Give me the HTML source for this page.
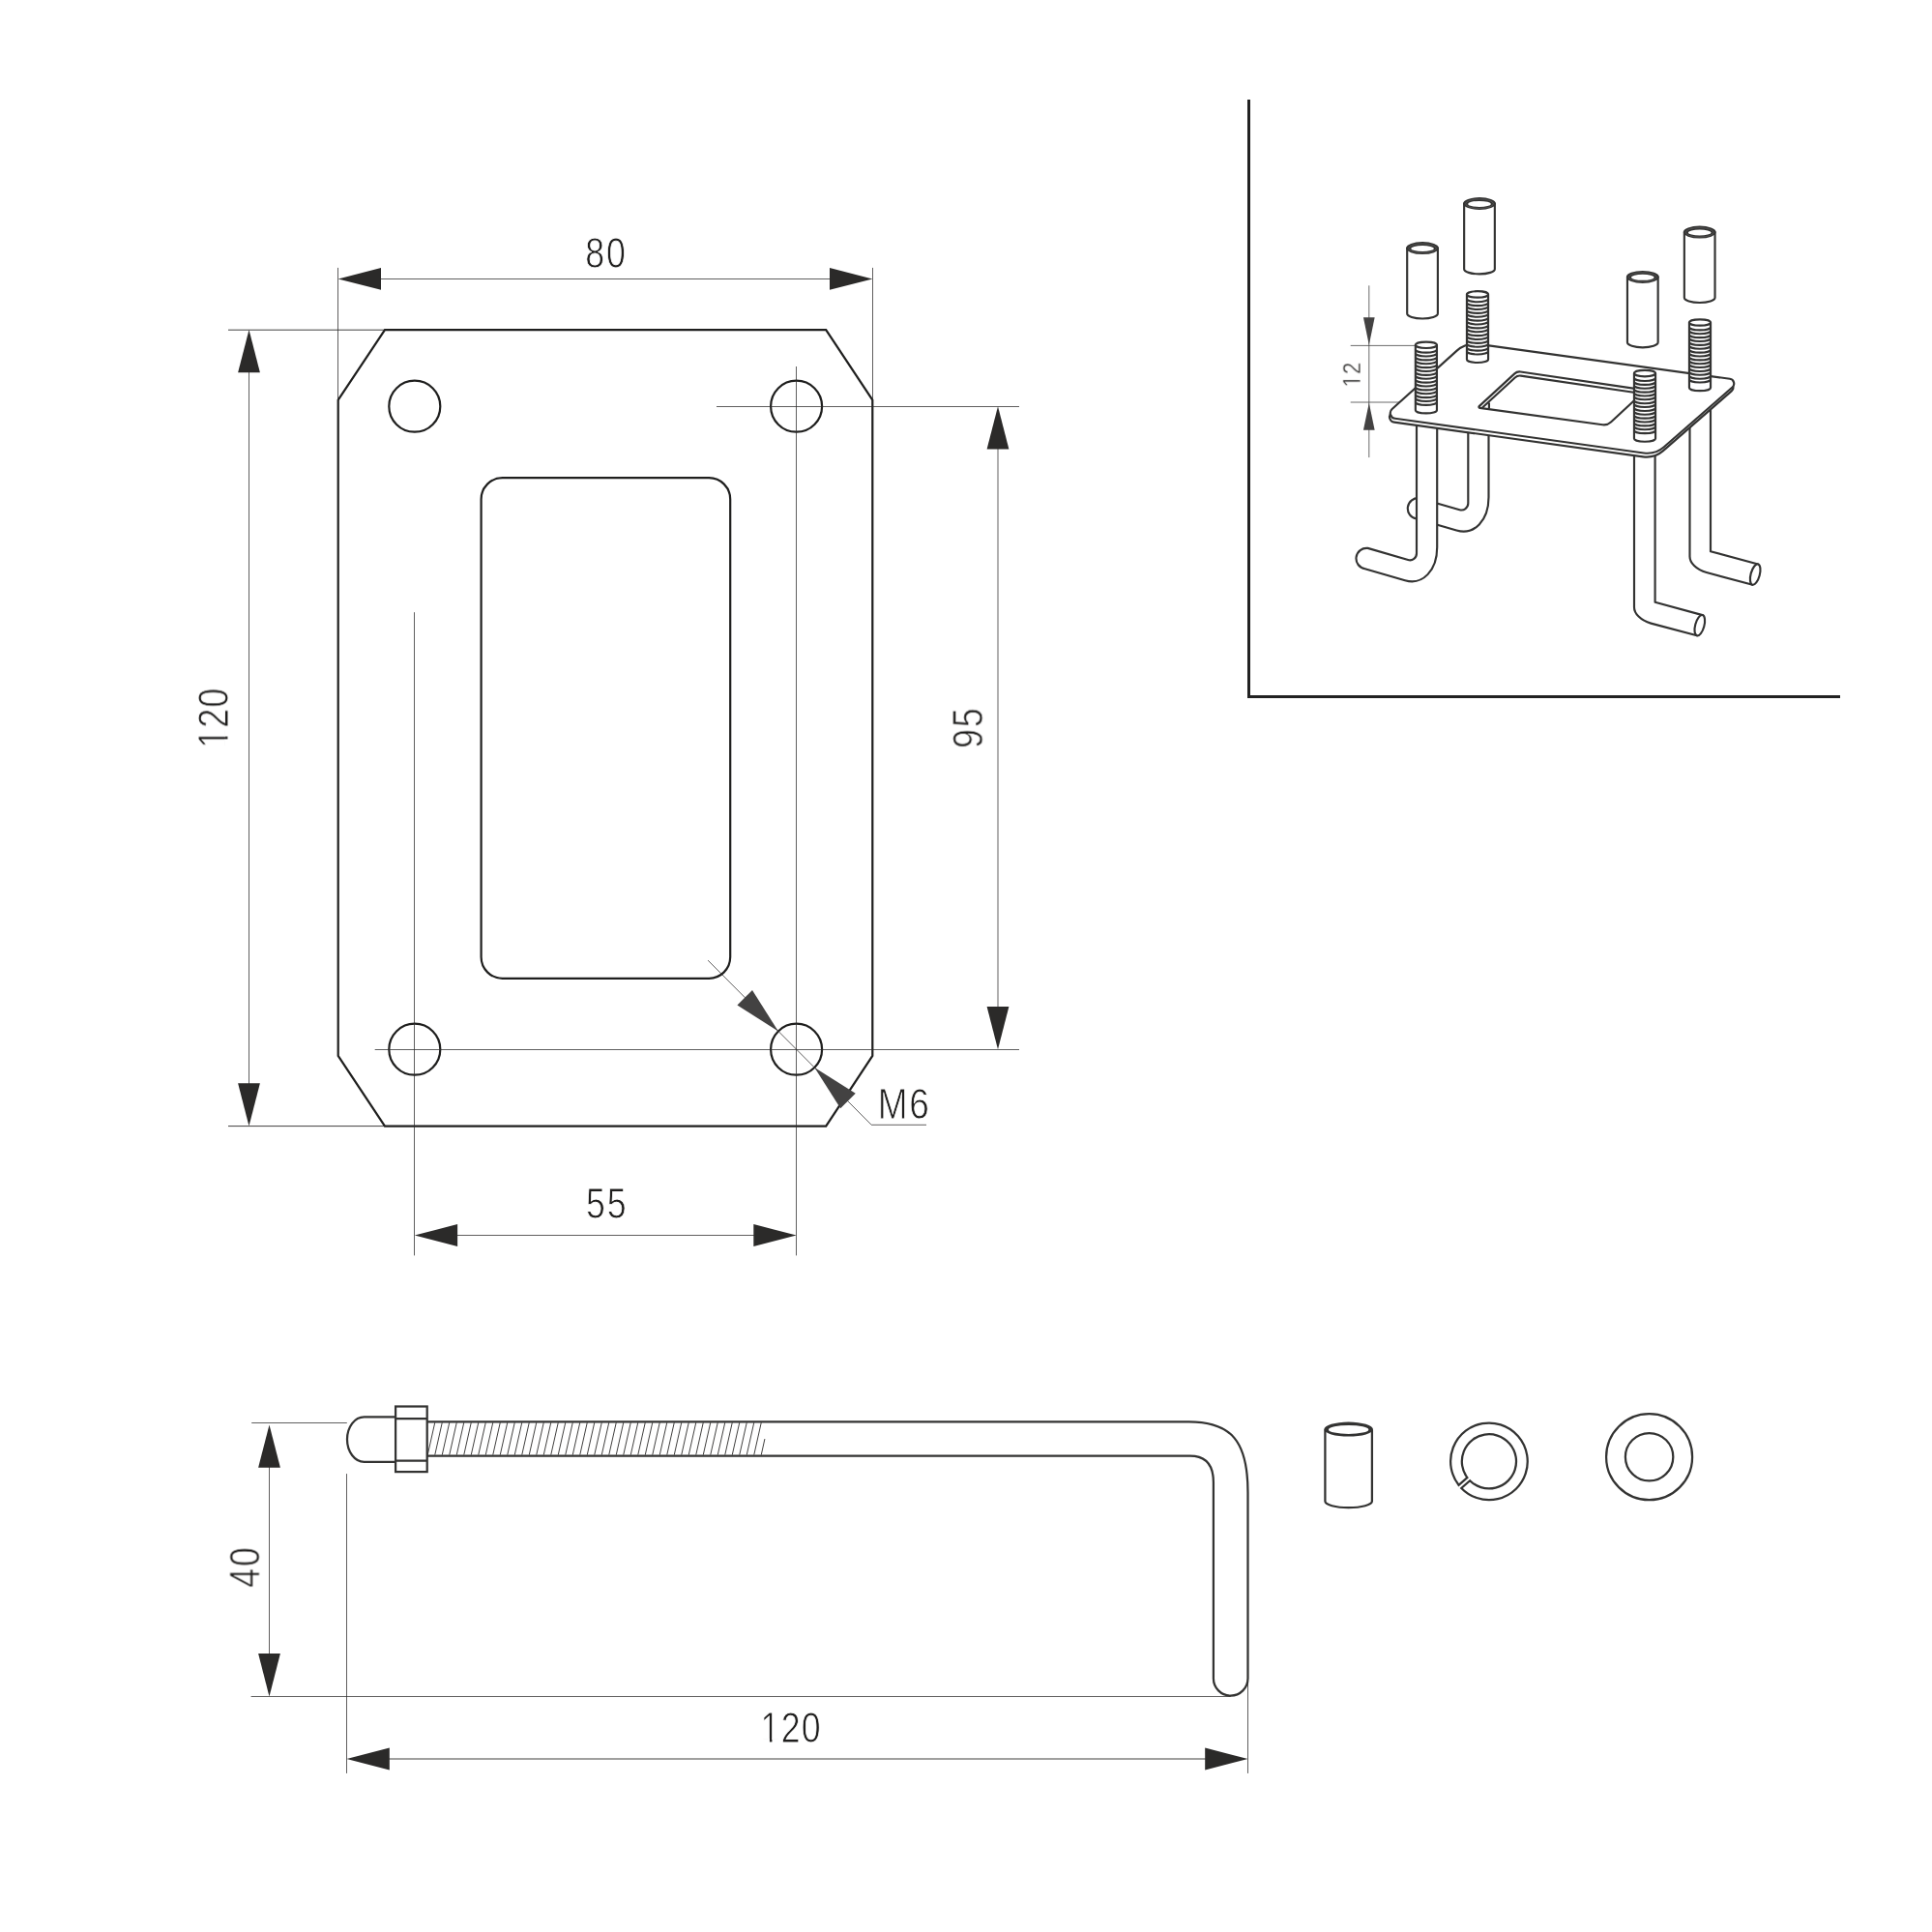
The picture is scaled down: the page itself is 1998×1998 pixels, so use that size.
<!DOCTYPE html>
<html lang="en"><head><meta charset="utf-8"><title>Mounting plate drawing</title>
<style>html,body{margin:0;padding:0;background:#ffffff;}svg{display:block;}</style></head>
<body>
<svg xmlns="http://www.w3.org/2000/svg" width="1998" height="1998" viewBox="0 0 1998 1998">
<polygon points="398.0,341.05 854.2,341.05 902.3,413.6 902.3,1091.8 854.2,1164.6 398.0,1164.6 349.7,1091.8 349.7,413.6" fill="none" stroke="#1f1f1e" stroke-width="2.2" stroke-linejoin="miter"/>
<circle cx="428.8" cy="420.2" r="26.5" fill="none" stroke="#1f1f1e" stroke-width="2.2"/>
<circle cx="428.8" cy="1085.2" r="26.5" fill="none" stroke="#1f1f1e" stroke-width="2.2"/>
<circle cx="823.6" cy="420.2" r="26.5" fill="none" stroke="#1f1f1e" stroke-width="2.2"/>
<circle cx="823.6" cy="1085.2" r="26.5" fill="none" stroke="#1f1f1e" stroke-width="2.2"/>
<rect x="497.6" y="494.2" width="257.6" height="517.6" rx="22" ry="22" fill="none" stroke="#1f1f1e" stroke-width="2.2"/>
<line x1="349.50" y1="276.90" x2="349.50" y2="413.60" stroke="#2b2a29" stroke-width="0.75" />
<line x1="902.50" y1="276.90" x2="902.50" y2="413.60" stroke="#2b2a29" stroke-width="0.75" />
<line x1="389.70" y1="288.50" x2="862.30" y2="288.50" stroke="#2b2a29" stroke-width="0.75" />
<polygon points="349.70,288.40 394.00,277.00 394.00,299.80" fill="#2b2a29"/>
<polygon points="902.30,288.40 858.00,299.80 858.00,277.00" fill="#2b2a29"/>
<line x1="236.00" y1="341.20" x2="398.00" y2="341.20" stroke="#2b2a29" stroke-width="0.9" />
<line x1="236.00" y1="1164.60" x2="398.00" y2="1164.60" stroke="#2b2a29" stroke-width="0.9" />
<line x1="257.50" y1="381.05" x2="257.50" y2="1124.60" stroke="#2b2a29" stroke-width="0.75" />
<polygon points="257.50,341.05 268.90,385.35 246.10,385.35" fill="#2b2a29"/>
<polygon points="257.50,1164.60 246.10,1120.30 268.90,1120.30" fill="#2b2a29"/>
<line x1="428.50" y1="633.20" x2="428.50" y2="1298.40" stroke="#2b2a29" stroke-width="0.75" />
<line x1="823.50" y1="379.00" x2="823.50" y2="1298.40" stroke="#2b2a29" stroke-width="0.75" />
<line x1="741.00" y1="420.50" x2="1054.00" y2="420.50" stroke="#2b2a29" stroke-width="0.75" />
<line x1="387.70" y1="1085.50" x2="1054.00" y2="1085.50" stroke="#2b2a29" stroke-width="0.75" />
<line x1="468.80" y1="1277.50" x2="783.60" y2="1277.50" stroke="#2b2a29" stroke-width="0.75" />
<polygon points="428.80,1277.50 473.10,1266.10 473.10,1288.90" fill="#2b2a29"/>
<polygon points="823.60,1277.50 779.30,1288.90 779.30,1266.10" fill="#2b2a29"/>
<line x1="1032.00" y1="460.20" x2="1032.00" y2="1045.20" stroke="#2b2a29" stroke-width="0.75" />
<polygon points="1032.00,420.20 1043.40,464.50 1020.60,464.50" fill="#2b2a29"/>
<polygon points="1032.00,1085.20 1020.60,1040.90 1043.40,1040.90" fill="#2b2a29"/>
<polyline points="732.1,993.1 901.2,1163.3 958,1163.3" fill="none" stroke="#2b2a29" stroke-width="0.75"/>
<polygon points="804.86,1066.46 762.44,1039.59 777.99,1024.04" fill="#434242"/>
<polygon points="842.34,1103.94 884.76,1130.81 869.21,1146.36" fill="#434242"/>
<line x1="442.25" y1="1504.60" x2="449.75" y2="1471.20" stroke="#2b2a29" stroke-width="0.9" />
<line x1="449.75" y1="1504.60" x2="457.25" y2="1471.20" stroke="#2b2a29" stroke-width="0.9" />
<line x1="457.25" y1="1504.60" x2="464.75" y2="1471.20" stroke="#2b2a29" stroke-width="0.9" />
<line x1="464.75" y1="1504.60" x2="472.25" y2="1471.20" stroke="#2b2a29" stroke-width="0.9" />
<line x1="472.25" y1="1504.60" x2="479.75" y2="1471.20" stroke="#2b2a29" stroke-width="0.9" />
<line x1="479.75" y1="1504.60" x2="487.25" y2="1471.20" stroke="#2b2a29" stroke-width="0.9" />
<line x1="487.25" y1="1504.60" x2="494.75" y2="1471.20" stroke="#2b2a29" stroke-width="0.9" />
<line x1="494.75" y1="1504.60" x2="502.25" y2="1471.20" stroke="#2b2a29" stroke-width="0.9" />
<line x1="502.25" y1="1504.60" x2="509.75" y2="1471.20" stroke="#2b2a29" stroke-width="0.9" />
<line x1="509.75" y1="1504.60" x2="517.25" y2="1471.20" stroke="#2b2a29" stroke-width="0.9" />
<line x1="517.25" y1="1504.60" x2="524.75" y2="1471.20" stroke="#2b2a29" stroke-width="0.9" />
<line x1="524.75" y1="1504.60" x2="532.25" y2="1471.20" stroke="#2b2a29" stroke-width="0.9" />
<line x1="532.25" y1="1504.60" x2="539.75" y2="1471.20" stroke="#2b2a29" stroke-width="0.9" />
<line x1="539.75" y1="1504.60" x2="547.25" y2="1471.20" stroke="#2b2a29" stroke-width="0.9" />
<line x1="547.25" y1="1504.60" x2="554.75" y2="1471.20" stroke="#2b2a29" stroke-width="0.9" />
<line x1="554.75" y1="1504.60" x2="562.25" y2="1471.20" stroke="#2b2a29" stroke-width="0.9" />
<line x1="562.25" y1="1504.60" x2="569.75" y2="1471.20" stroke="#2b2a29" stroke-width="0.9" />
<line x1="569.75" y1="1504.60" x2="577.25" y2="1471.20" stroke="#2b2a29" stroke-width="0.9" />
<line x1="577.25" y1="1504.60" x2="584.75" y2="1471.20" stroke="#2b2a29" stroke-width="0.9" />
<line x1="584.75" y1="1504.60" x2="592.25" y2="1471.20" stroke="#2b2a29" stroke-width="0.9" />
<line x1="592.25" y1="1504.60" x2="599.75" y2="1471.20" stroke="#2b2a29" stroke-width="0.9" />
<line x1="599.75" y1="1504.60" x2="607.25" y2="1471.20" stroke="#2b2a29" stroke-width="0.9" />
<line x1="607.25" y1="1504.60" x2="614.75" y2="1471.20" stroke="#2b2a29" stroke-width="0.9" />
<line x1="614.75" y1="1504.60" x2="622.25" y2="1471.20" stroke="#2b2a29" stroke-width="0.9" />
<line x1="622.25" y1="1504.60" x2="629.75" y2="1471.20" stroke="#2b2a29" stroke-width="0.9" />
<line x1="629.75" y1="1504.60" x2="637.25" y2="1471.20" stroke="#2b2a29" stroke-width="0.9" />
<line x1="637.25" y1="1504.60" x2="644.75" y2="1471.20" stroke="#2b2a29" stroke-width="0.9" />
<line x1="644.75" y1="1504.60" x2="652.25" y2="1471.20" stroke="#2b2a29" stroke-width="0.9" />
<line x1="652.25" y1="1504.60" x2="659.75" y2="1471.20" stroke="#2b2a29" stroke-width="0.9" />
<line x1="659.75" y1="1504.60" x2="667.25" y2="1471.20" stroke="#2b2a29" stroke-width="0.9" />
<line x1="667.25" y1="1504.60" x2="674.75" y2="1471.20" stroke="#2b2a29" stroke-width="0.9" />
<line x1="674.75" y1="1504.60" x2="682.25" y2="1471.20" stroke="#2b2a29" stroke-width="0.9" />
<line x1="682.25" y1="1504.60" x2="689.75" y2="1471.20" stroke="#2b2a29" stroke-width="0.9" />
<line x1="689.75" y1="1504.60" x2="697.25" y2="1471.20" stroke="#2b2a29" stroke-width="0.9" />
<line x1="697.25" y1="1504.60" x2="704.75" y2="1471.20" stroke="#2b2a29" stroke-width="0.9" />
<line x1="704.75" y1="1504.60" x2="712.25" y2="1471.20" stroke="#2b2a29" stroke-width="0.9" />
<line x1="712.25" y1="1504.60" x2="719.75" y2="1471.20" stroke="#2b2a29" stroke-width="0.9" />
<line x1="719.75" y1="1504.60" x2="727.25" y2="1471.20" stroke="#2b2a29" stroke-width="0.9" />
<line x1="727.25" y1="1504.60" x2="734.75" y2="1471.20" stroke="#2b2a29" stroke-width="0.9" />
<line x1="734.75" y1="1504.60" x2="742.25" y2="1471.20" stroke="#2b2a29" stroke-width="0.9" />
<line x1="742.25" y1="1504.60" x2="749.75" y2="1471.20" stroke="#2b2a29" stroke-width="0.9" />
<line x1="749.75" y1="1504.60" x2="757.25" y2="1471.20" stroke="#2b2a29" stroke-width="0.9" />
<line x1="757.25" y1="1504.60" x2="764.75" y2="1471.20" stroke="#2b2a29" stroke-width="0.9" />
<line x1="764.75" y1="1504.60" x2="772.25" y2="1471.20" stroke="#2b2a29" stroke-width="0.9" />
<line x1="772.25" y1="1504.60" x2="779.75" y2="1471.20" stroke="#2b2a29" stroke-width="0.9" />
<line x1="779.75" y1="1504.60" x2="787.25" y2="1471.20" stroke="#2b2a29" stroke-width="0.9" />
<line x1="787.25" y1="1504.60" x2="790.90" y2="1488.10" stroke="#2b2a29" stroke-width="0.9" />
<path d="M409,1465.3 L376.6,1465.3 A17.6,23.25 0 0 0 376.6,1511.8 L409,1511.8" fill="none" stroke="#333332" stroke-width="2.25"/>
<rect x="409.1" y="1454.5" width="32.6" height="67.6" fill="none" stroke="#333332" stroke-width="2.25"/>
<line x1="409.10" y1="1467.00" x2="441.70" y2="1467.00" stroke="#333332" stroke-width="2.25" />
<line x1="409.10" y1="1510.60" x2="441.70" y2="1510.60" stroke="#333332" stroke-width="2.25" />
<path d="M441.7,1470.3 L1229.7,1470.3 C1273.5,1470.3 1290.5,1490.8 1290.5,1543.5 L1290.5,1735.8 A17.8,17.8 0 0 1 1254.9,1735.8 L1254.9,1533 C1254.9,1517.9 1249,1505.6 1230.7,1505.6 L441.7,1505.6" fill="none" stroke="#333332" stroke-width="2.25"/>
<line x1="260.20" y1="1471.50" x2="358.80" y2="1471.50" stroke="#2b2a29" stroke-width="0.75" />
<line x1="259.60" y1="1754.50" x2="1272.70" y2="1754.50" stroke="#2b2a29" stroke-width="0.75" />
<line x1="278.50" y1="1511.30" x2="278.50" y2="1714.40" stroke="#2b2a29" stroke-width="0.75" />
<polygon points="278.50,1473.40 289.90,1517.80 267.10,1517.80" fill="#2b2a29"/>
<polygon points="278.50,1754.40 267.10,1710.10 289.90,1710.10" fill="#2b2a29"/>
<line x1="358.50" y1="1524.10" x2="358.50" y2="1833.90" stroke="#2b2a29" stroke-width="0.75" />
<line x1="1290.50" y1="1740.00" x2="1290.50" y2="1833.90" stroke="#2b2a29" stroke-width="0.75" />
<line x1="398.50" y1="1819.00" x2="1250.50" y2="1819.00" stroke="#2b2a29" stroke-width="0.9" />
<polygon points="358.50,1819.00 402.80,1807.60 402.80,1830.40" fill="#2b2a29"/>
<polygon points="1290.50,1819.00 1246.20,1830.40 1246.20,1807.60" fill="#2b2a29"/>
<path d="M1370.4,1478.2 L1370.4,1552.6 A24.25,6.6 0 0 0 1418.9,1552.6 L1418.9,1478.2" fill="none" stroke="#333332" stroke-width="2.25"/>
<path fill-rule="evenodd" fill="#333332" d="M1369.3500000000001,1478.1 a25.3,7.5 0 1 0 50.6,0 a25.3,7.5 0 1 0 -50.6,0 Z M1373.95,1478.4 a20.7,4.5 0 1 0 41.4,0 a20.7,4.5 0 1 0 -41.4,0 Z"/>
<path d="M1508.53,1535.79 A39.8,39.8 0 1 1 1511.28,1538.96 L1520.13,1531.27 A28.1,28.1 0 1 0 1517.38,1528.10 Z" fill="none" stroke="#333332" stroke-width="2.25" stroke-linejoin="miter"/>
<circle cx="1705.6" cy="1506.7" r="44.5" fill="none" stroke="#333332" stroke-width="2.25"/>
<circle cx="1705.6" cy="1506.7" r="24.7" fill="none" stroke="#333332" stroke-width="2.25"/>
<path d="M1291.5,103 L1291.5,720.5 L1903,720.5" fill="none" stroke="#222222" stroke-width="3" stroke-linejoin="miter"/>
<path d="M1518.3,373.3 L1518.3,520.6 A6.9,6.9 0 0 1 1509.5,527.2 L1467.8,515.2 A10.75,10.75 0 0 0 1464.9,536.5 L1506.3,548.5 C1524.5,553.8 1539.5,538.4 1539.5,514.3 L1539.5,373.3" fill="#ffffff" stroke="#333332" stroke-width="2.15" stroke-linejoin="round" stroke-linecap="round" />
<path d="M1747.5,387.4 L1747.5,575.4 C1747.5,581.9 1754.0,589.0 1764.8,592.0 L1812.4,604.7 L1818.2,583.5 L1769.0,570.2 L1769.0,387.4" fill="#ffffff" stroke="#333332" stroke-width="2.15" stroke-linejoin="round" stroke-linecap="round" />
<ellipse cx="1815.2" cy="594.1" rx="4.6" ry="11" transform="rotate(15.25 1815.2 594.1)" fill="#ffffff" stroke="#333332" stroke-width="2.15"/>
<path d="M1465.0,425.0 L1465.0,572.3 A6.9,6.9 0 0 1 1456.2,579.0 L1414.5,566.9 A10.75,10.75 0 0 0 1411.6,588.2 L1453.0,600.2 C1471.2,605.5 1486.2,590.1 1486.2,566.0 L1486.2,425.0" fill="#ffffff" stroke="#333332" stroke-width="2.15" stroke-linejoin="round" stroke-linecap="round" />
<path d="M1690.0,440.0 L1690.0,628.0 C1690.0,634.5 1696.5,641.6 1707.3,644.6 L1754.9,657.3 L1760.7,636.1 L1711.6,622.8 L1711.6,440.0" fill="#ffffff" stroke="#333332" stroke-width="2.15" stroke-linejoin="round" stroke-linecap="round" />
<ellipse cx="1757.8" cy="646.7" rx="4.6" ry="11" transform="rotate(15.25 1757.8 646.7)" fill="#ffffff" stroke="#333332" stroke-width="2.15"/>
<path d="M1505.58,366.74 A27.94,27.94 0 0 1 1528.11,359.81 L1788.09,395.69 A5.01,5.01 0 0 1 1790.70,404.43 L1720.02,466.14 A26.31,26.31 0 0 1 1699.09,472.37 L1441.83,436.62 A5.59,5.59 0 0 1 1438.85,426.93 Z" fill="#ffffff" stroke="#333332" stroke-width="2.15" stroke-linejoin="round" stroke-linecap="round" />
<path d="M1506.38,362.84 A27.94,27.94 0 0 1 1528.91,355.91 L1788.89,391.79 A5.01,5.01 0 0 1 1791.50,400.53 L1720.82,462.24 A26.31,26.31 0 0 1 1699.89,468.47 L1442.63,432.72 A5.59,5.59 0 0 1 1439.65,423.03 Z" fill="#ffffff" stroke="#333332" stroke-width="2.15" stroke-linejoin="round" stroke-linecap="round" />
<clipPath id="cutclip"><path d="M1566.38,386.35 A7.34,7.34 0 0 1 1572.42,384.49 L1697.59,402.89 A1.92,1.92 0 0 1 1698.62,406.20 L1665.97,436.56 A10.55,10.55 0 0 1 1657.35,439.29 L1530.27,421.88 A1.04,1.04 0 0 1 1529.71,420.09 Z"/></clipPath>
<path d="M1566.38,386.35 A7.34,7.34 0 0 1 1572.42,384.49 L1697.59,402.89 A1.92,1.92 0 0 1 1698.62,406.20 L1665.97,436.56 A10.55,10.55 0 0 1 1657.35,439.29 L1530.27,421.88 A1.04,1.04 0 0 1 1529.71,420.09 Z" fill="#ffffff" stroke="#333332" stroke-width="2.15" stroke-linejoin="round" stroke-linecap="round" />
<g clip-path="url(#cutclip)">
<path d="M1566.78,390.45 A7.34,7.34 0 0 1 1572.82,388.59 L1697.99,406.99 A1.92,1.92 0 0 1 1699.02,410.30 L1666.37,440.66 A10.55,10.55 0 0 1 1657.75,443.39 L1530.67,425.98 A1.04,1.04 0 0 1 1530.11,424.19 Z" fill="none" stroke="#333332" stroke-width="2.15" stroke-linejoin="round" stroke-linecap="round" />
</g>
<line x1="1539.90" y1="416.40" x2="1539.90" y2="422.60" stroke="#333332" stroke-width="2.15" />
<path d="M1516.95,304.40 L1516.95,371.80 A11.05,3.2 0 0 0 1539.05,371.80 L1539.05,304.40 Z" fill="#ffffff" stroke="#333332" stroke-width="2.15" stroke-linejoin="round" stroke-linecap="round" />
<path d="M1516.95,309.07 A11.05,3.2 0 0 0 1539.05,309.07" fill="none" stroke="#333332" stroke-width="2.1"/>
<path d="M1516.95,312.94 A11.05,3.2 0 0 0 1539.05,312.94" fill="none" stroke="#333332" stroke-width="2.1"/>
<path d="M1516.95,316.81 A11.05,3.2 0 0 0 1539.05,316.81" fill="none" stroke="#333332" stroke-width="2.1"/>
<path d="M1516.95,320.68 A11.05,3.2 0 0 0 1539.05,320.68" fill="none" stroke="#333332" stroke-width="2.1"/>
<path d="M1516.95,324.55 A11.05,3.2 0 0 0 1539.05,324.55" fill="none" stroke="#333332" stroke-width="2.1"/>
<path d="M1516.95,328.42 A11.05,3.2 0 0 0 1539.05,328.42" fill="none" stroke="#333332" stroke-width="2.1"/>
<path d="M1516.95,332.29 A11.05,3.2 0 0 0 1539.05,332.29" fill="none" stroke="#333332" stroke-width="2.1"/>
<path d="M1516.95,336.16 A11.05,3.2 0 0 0 1539.05,336.16" fill="none" stroke="#333332" stroke-width="2.1"/>
<path d="M1516.95,340.03 A11.05,3.2 0 0 0 1539.05,340.03" fill="none" stroke="#333332" stroke-width="2.1"/>
<path d="M1516.95,343.90 A11.05,3.2 0 0 0 1539.05,343.90" fill="none" stroke="#333332" stroke-width="2.1"/>
<path d="M1516.95,347.77 A11.05,3.2 0 0 0 1539.05,347.77" fill="none" stroke="#333332" stroke-width="2.1"/>
<path d="M1516.95,351.64 A11.05,3.2 0 0 0 1539.05,351.64" fill="none" stroke="#333332" stroke-width="2.1"/>
<path d="M1516.95,355.51 A11.05,3.2 0 0 0 1539.05,355.51" fill="none" stroke="#333332" stroke-width="2.1"/>
<path d="M1516.95,359.38 A11.05,3.2 0 0 0 1539.05,359.38" fill="none" stroke="#333332" stroke-width="2.1"/>
<path d="M1516.95,363.25 A11.05,3.2 0 0 0 1539.05,363.25" fill="none" stroke="#333332" stroke-width="2.1"/>
<ellipse cx="1528.00" cy="304.40" rx="11.05" ry="3.2" fill="#ffffff" stroke="#333332" stroke-width="2.15"/>
<path d="M1746.95,333.50 L1746.95,400.90 A11.05,3.2 0 0 0 1769.05,400.90 L1769.05,333.50 Z" fill="#ffffff" stroke="#333332" stroke-width="2.15" stroke-linejoin="round" stroke-linecap="round" />
<path d="M1746.95,338.17 A11.05,3.2 0 0 0 1769.05,338.17" fill="none" stroke="#333332" stroke-width="2.1"/>
<path d="M1746.95,342.04 A11.05,3.2 0 0 0 1769.05,342.04" fill="none" stroke="#333332" stroke-width="2.1"/>
<path d="M1746.95,345.91 A11.05,3.2 0 0 0 1769.05,345.91" fill="none" stroke="#333332" stroke-width="2.1"/>
<path d="M1746.95,349.78 A11.05,3.2 0 0 0 1769.05,349.78" fill="none" stroke="#333332" stroke-width="2.1"/>
<path d="M1746.95,353.65 A11.05,3.2 0 0 0 1769.05,353.65" fill="none" stroke="#333332" stroke-width="2.1"/>
<path d="M1746.95,357.52 A11.05,3.2 0 0 0 1769.05,357.52" fill="none" stroke="#333332" stroke-width="2.1"/>
<path d="M1746.95,361.39 A11.05,3.2 0 0 0 1769.05,361.39" fill="none" stroke="#333332" stroke-width="2.1"/>
<path d="M1746.95,365.26 A11.05,3.2 0 0 0 1769.05,365.26" fill="none" stroke="#333332" stroke-width="2.1"/>
<path d="M1746.95,369.13 A11.05,3.2 0 0 0 1769.05,369.13" fill="none" stroke="#333332" stroke-width="2.1"/>
<path d="M1746.95,373.00 A11.05,3.2 0 0 0 1769.05,373.00" fill="none" stroke="#333332" stroke-width="2.1"/>
<path d="M1746.95,376.87 A11.05,3.2 0 0 0 1769.05,376.87" fill="none" stroke="#333332" stroke-width="2.1"/>
<path d="M1746.95,380.74 A11.05,3.2 0 0 0 1769.05,380.74" fill="none" stroke="#333332" stroke-width="2.1"/>
<path d="M1746.95,384.61 A11.05,3.2 0 0 0 1769.05,384.61" fill="none" stroke="#333332" stroke-width="2.1"/>
<path d="M1746.95,388.48 A11.05,3.2 0 0 0 1769.05,388.48" fill="none" stroke="#333332" stroke-width="2.1"/>
<path d="M1746.95,392.35 A11.05,3.2 0 0 0 1769.05,392.35" fill="none" stroke="#333332" stroke-width="2.1"/>
<ellipse cx="1758.00" cy="333.50" rx="11.05" ry="3.2" fill="#ffffff" stroke="#333332" stroke-width="2.15"/>
<path d="M1463.85,356.80 L1463.85,424.20 A11.05,3.2 0 0 0 1485.95,424.20 L1485.95,356.80 Z" fill="#ffffff" stroke="#333332" stroke-width="2.15" stroke-linejoin="round" stroke-linecap="round" />
<path d="M1463.85,361.47 A11.05,3.2 0 0 0 1485.95,361.47" fill="none" stroke="#333332" stroke-width="2.1"/>
<path d="M1463.85,365.34 A11.05,3.2 0 0 0 1485.95,365.34" fill="none" stroke="#333332" stroke-width="2.1"/>
<path d="M1463.85,369.21 A11.05,3.2 0 0 0 1485.95,369.21" fill="none" stroke="#333332" stroke-width="2.1"/>
<path d="M1463.85,373.08 A11.05,3.2 0 0 0 1485.95,373.08" fill="none" stroke="#333332" stroke-width="2.1"/>
<path d="M1463.85,376.95 A11.05,3.2 0 0 0 1485.95,376.95" fill="none" stroke="#333332" stroke-width="2.1"/>
<path d="M1463.85,380.82 A11.05,3.2 0 0 0 1485.95,380.82" fill="none" stroke="#333332" stroke-width="2.1"/>
<path d="M1463.85,384.69 A11.05,3.2 0 0 0 1485.95,384.69" fill="none" stroke="#333332" stroke-width="2.1"/>
<path d="M1463.85,388.56 A11.05,3.2 0 0 0 1485.95,388.56" fill="none" stroke="#333332" stroke-width="2.1"/>
<path d="M1463.85,392.43 A11.05,3.2 0 0 0 1485.95,392.43" fill="none" stroke="#333332" stroke-width="2.1"/>
<path d="M1463.85,396.30 A11.05,3.2 0 0 0 1485.95,396.30" fill="none" stroke="#333332" stroke-width="2.1"/>
<path d="M1463.85,400.17 A11.05,3.2 0 0 0 1485.95,400.17" fill="none" stroke="#333332" stroke-width="2.1"/>
<path d="M1463.85,404.04 A11.05,3.2 0 0 0 1485.95,404.04" fill="none" stroke="#333332" stroke-width="2.1"/>
<path d="M1463.85,407.91 A11.05,3.2 0 0 0 1485.95,407.91" fill="none" stroke="#333332" stroke-width="2.1"/>
<path d="M1463.85,411.78 A11.05,3.2 0 0 0 1485.95,411.78" fill="none" stroke="#333332" stroke-width="2.1"/>
<path d="M1463.85,415.65 A11.05,3.2 0 0 0 1485.95,415.65" fill="none" stroke="#333332" stroke-width="2.1"/>
<ellipse cx="1474.90" cy="356.80" rx="11.05" ry="3.2" fill="#ffffff" stroke="#333332" stroke-width="2.15"/>
<path d="M1689.95,386.10 L1689.95,453.50 A11.05,3.2 0 0 0 1712.05,453.50 L1712.05,386.10 Z" fill="#ffffff" stroke="#333332" stroke-width="2.15" stroke-linejoin="round" stroke-linecap="round" />
<path d="M1689.95,390.77 A11.05,3.2 0 0 0 1712.05,390.77" fill="none" stroke="#333332" stroke-width="2.1"/>
<path d="M1689.95,394.64 A11.05,3.2 0 0 0 1712.05,394.64" fill="none" stroke="#333332" stroke-width="2.1"/>
<path d="M1689.95,398.51 A11.05,3.2 0 0 0 1712.05,398.51" fill="none" stroke="#333332" stroke-width="2.1"/>
<path d="M1689.95,402.38 A11.05,3.2 0 0 0 1712.05,402.38" fill="none" stroke="#333332" stroke-width="2.1"/>
<path d="M1689.95,406.25 A11.05,3.2 0 0 0 1712.05,406.25" fill="none" stroke="#333332" stroke-width="2.1"/>
<path d="M1689.95,410.12 A11.05,3.2 0 0 0 1712.05,410.12" fill="none" stroke="#333332" stroke-width="2.1"/>
<path d="M1689.95,413.99 A11.05,3.2 0 0 0 1712.05,413.99" fill="none" stroke="#333332" stroke-width="2.1"/>
<path d="M1689.95,417.86 A11.05,3.2 0 0 0 1712.05,417.86" fill="none" stroke="#333332" stroke-width="2.1"/>
<path d="M1689.95,421.73 A11.05,3.2 0 0 0 1712.05,421.73" fill="none" stroke="#333332" stroke-width="2.1"/>
<path d="M1689.95,425.60 A11.05,3.2 0 0 0 1712.05,425.60" fill="none" stroke="#333332" stroke-width="2.1"/>
<path d="M1689.95,429.47 A11.05,3.2 0 0 0 1712.05,429.47" fill="none" stroke="#333332" stroke-width="2.1"/>
<path d="M1689.95,433.34 A11.05,3.2 0 0 0 1712.05,433.34" fill="none" stroke="#333332" stroke-width="2.1"/>
<path d="M1689.95,437.21 A11.05,3.2 0 0 0 1712.05,437.21" fill="none" stroke="#333332" stroke-width="2.1"/>
<path d="M1689.95,441.08 A11.05,3.2 0 0 0 1712.05,441.08" fill="none" stroke="#333332" stroke-width="2.1"/>
<path d="M1689.95,444.95 A11.05,3.2 0 0 0 1712.05,444.95" fill="none" stroke="#333332" stroke-width="2.1"/>
<ellipse cx="1701.00" cy="386.10" rx="11.05" ry="3.2" fill="#ffffff" stroke="#333332" stroke-width="2.15"/>
<path d="M1455.20,256.60 L1455.20,324.30 A15.85,5.2 0 0 0 1486.90,324.30 L1486.90,256.60" fill="#ffffff" stroke="#333332" stroke-width="2.15" stroke-linejoin="round" stroke-linecap="round" />
<path fill-rule="evenodd" fill="#333332" d="M1454.15,256.60 a16.9,6.5 0 1 0 33.80,0 a16.9,6.5 0 1 0 -33.80,0 Z M1459.15,257.00 a11.9,3.0 0 1 0 23.80,0 a11.9,3.0 0 1 0 -23.80,0 Z"/>
<ellipse cx="1471.05" cy="256.80" rx="14.40" ry="4.75" fill="none" stroke="#6e6d6c" stroke-width="0.5"/>
<path d="M1514.15,210.50 L1514.15,278.20 A15.85,5.2 0 0 0 1545.85,278.20 L1545.85,210.50" fill="#ffffff" stroke="#333332" stroke-width="2.15" stroke-linejoin="round" stroke-linecap="round" />
<path fill-rule="evenodd" fill="#333332" d="M1513.10,210.50 a16.9,6.5 0 1 0 33.80,0 a16.9,6.5 0 1 0 -33.80,0 Z M1518.10,210.90 a11.9,3.0 0 1 0 23.80,0 a11.9,3.0 0 1 0 -23.80,0 Z"/>
<ellipse cx="1530.00" cy="210.70" rx="14.40" ry="4.75" fill="none" stroke="#6e6d6c" stroke-width="0.5"/>
<path d="M1682.95,286.40 L1682.95,354.10 A15.85,5.2 0 0 0 1714.65,354.10 L1714.65,286.40" fill="#ffffff" stroke="#333332" stroke-width="2.15" stroke-linejoin="round" stroke-linecap="round" />
<path fill-rule="evenodd" fill="#333332" d="M1681.90,286.40 a16.9,6.5 0 1 0 33.80,0 a16.9,6.5 0 1 0 -33.80,0 Z M1686.90,286.80 a11.9,3.0 0 1 0 23.80,0 a11.9,3.0 0 1 0 -23.80,0 Z"/>
<ellipse cx="1698.80" cy="286.60" rx="14.40" ry="4.75" fill="none" stroke="#6e6d6c" stroke-width="0.5"/>
<path d="M1741.85,240.10 L1741.85,307.80 A15.85,5.2 0 0 0 1773.55,307.80 L1773.55,240.10" fill="#ffffff" stroke="#333332" stroke-width="2.15" stroke-linejoin="round" stroke-linecap="round" />
<path fill-rule="evenodd" fill="#333332" d="M1740.80,240.10 a16.9,6.5 0 1 0 33.80,0 a16.9,6.5 0 1 0 -33.80,0 Z M1745.80,240.50 a11.9,3.0 0 1 0 23.80,0 a11.9,3.0 0 1 0 -23.80,0 Z"/>
<ellipse cx="1757.70" cy="240.30" rx="14.40" ry="4.75" fill="none" stroke="#6e6d6c" stroke-width="0.5"/>
<line x1="1415.80" y1="295.30" x2="1415.80" y2="473.10" stroke="#3a3939" stroke-width="0.75" />
<line x1="1396.70" y1="357.40" x2="1463.20" y2="357.40" stroke="#3a3939" stroke-width="0.75" />
<line x1="1396.70" y1="416.00" x2="1447.20" y2="416.00" stroke="#3a3939" stroke-width="0.75" />
<polygon points="1415.80,356.80 1409.95,328.30 1421.65,328.30" fill="#434242"/>
<polygon points="1415.80,416.80 1421.65,444.80 1409.95,444.80" fill="#434242"/>
<g font-family="'Liberation Sans', sans-serif" opacity="0.999">
<g transform="translate(605.30,276.90) scale(0.82,1)"><text font-size="43.6" letter-spacing="2.1" fill="#1f1e1d" stroke="#ffffff" stroke-width="0.85">80</text></g>
<g transform="translate(236.00,773.60) rotate(-90) scale(0.82,1)"><text font-size="43.6" letter-spacing="1.4" fill="#1f1e1d" stroke="#ffffff" stroke-width="0.85">120</text><rect x="1.82" y="-3.61" width="9.55" height="4.86" fill="#ffffff"/><rect x="14.41" y="-3.61" width="9.21" height="4.86" fill="#ffffff"/></g>
<g transform="translate(1016.30,773.80) rotate(-90) scale(0.82,1)"><text font-size="43.6" letter-spacing="2.1" fill="#1f1e1d" stroke="#ffffff" stroke-width="0.85">95</text></g>
<g transform="translate(606.10,1260.10) scale(0.82,1)"><text font-size="43.6" letter-spacing="2.1" fill="#1f1e1d" stroke="#ffffff" stroke-width="0.85">55</text></g>
<g transform="translate(907.80,1156.90) scale(0.85,1)"><text font-size="43.6" letter-spacing="2.0" fill="#1f1e1d" stroke="#ffffff" stroke-width="0.85">M6</text></g>
<g transform="translate(268.50,1641.70) rotate(-90) scale(0.82,1)"><text font-size="43.6" letter-spacing="2.1" fill="#1f1e1d" stroke="#ffffff" stroke-width="0.85">40</text></g>
<g transform="translate(786.60,1802.00) scale(0.82,1)"><text font-size="43.6" letter-spacing="1.4" fill="#1f1e1d" stroke="#ffffff" stroke-width="0.85">120</text><rect x="1.82" y="-3.61" width="9.55" height="4.86" fill="#ffffff"/><rect x="14.41" y="-3.61" width="9.21" height="4.86" fill="#ffffff"/></g>
<g transform="translate(1406.80,400.40) rotate(-90) scale(0.82,1)"><text font-size="26.6" letter-spacing="1.6" fill="#333231" stroke="#ffffff" stroke-width="0.35">12</text><rect x="0.53" y="-2.34" width="6.32" height="3.59" fill="#ffffff"/><rect x="8.88" y="-2.34" width="6.11" height="3.59" fill="#ffffff"/></g>
</g>
</svg>
</body></html>
